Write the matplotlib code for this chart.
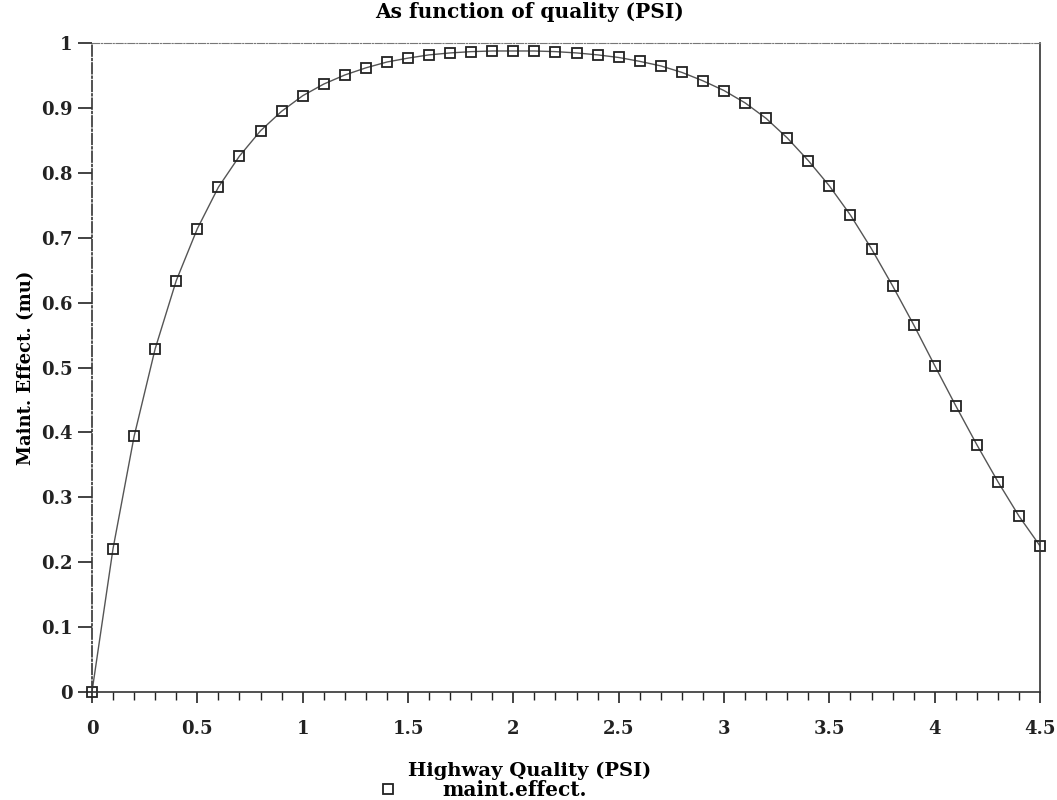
import matplotlib.pyplot as plt
import numpy as np

# highway quality (PSI) and maintenance effect
psi = [0.0, 0.1, 0.2, 0.3, 0.4, 0.5, 0.6, 0.7, 0.8, 0.9,
       1.0, 1.1, 1.2, 1.3, 1.4, 1.5, 1.6, 1.7, 1.8, 1.9,
       2.0, 2.1, 2.2, 2.3, 2.4, 2.5, 2.6, 2.7, 2.8, 2.9,
       3.0, 3.1, 3.2, 3.3, 3.4, 3.5, 3.6, 3.7, 3.8, 3.9,
       4.0, 4.1, 4.2, 4.3, 4.4, 4.5]
effect = [0.0, 0.221, 0.394, 0.529, 0.634, 0.714, 0.778, 0.826, 0.865, 0.895,
          0.919, 0.937, 0.951, 0.962, 0.971, 0.977, 0.982, 0.985, 0.987, 0.988,
          0.988, 0.988, 0.987, 0.985, 0.982, 0.978, 0.972, 0.965, 0.955, 0.942,
          0.927, 0.908, 0.884, 0.854, 0.819, 0.780, 0.735, 0.683, 0.626, 0.566,
          0.503, 0.441, 0.381, 0.324, 0.271, 0.225]

xticks = [0, 0.5, 1, 1.5, 2, 2.5, 3, 3.5, 4, 4.5]
xticklabels = ["0", "0.5", "1", "1.5", "2", "2.5", "3", "3.5", "4", "4.5"]
yticks = [0, 0.1, 0.2, 0.3, 0.4, 0.5, 0.6, 0.7, 0.8, 0.9, 1]
yticklabels = ["0", "0.1", "0.2", "0.3", "0.4", "0.5", "0.6", "0.7", "0.8", "0.9", "1"]

plt.rcParams['font.family'] = ['DejaVu Serif']
plt.rcParams['font.weight'] = 'bold'

fig = plt.figure(figsize=(10.57, 8), dpi=100)
ax = fig.add_axes([0.087, 0.135, 0.897, 0.811])

ax.plot(psi, effect, '-', color='#555555', linewidth=1.0)
ax.plot(psi, effect, 's', markersize=7.5, markerfacecolor='none',
        markeredgecolor='#222222', markeredgewidth=1.3, label='maint.effect.',
        clip_on=False)

ax.set_xlim(0, 4.5)
ax.set_ylim(0, 1)
ax.set_xticks(xticks)
ax.set_xticklabels(xticklabels)
ax.set_xticks(np.arange(0, 4.51, 0.1), minor=True)
ax.set_yticks(yticks)
ax.set_yticklabels(yticklabels)
ax.tick_params(axis='x', which='major', direction='out', length=8, width=1.2,
               labelsize=13, pad=12, colors='#222222')
ax.tick_params(axis='x', which='minor', direction='out', length=6, width=1.0, colors='#222222')
ax.tick_params(axis='y', which='major', direction='out', length=10, width=1.2,
               labelsize=13, pad=4, colors='#222222')

for side in ['left', 'bottom', 'right']:
    ax.spines[side].set_color('#333333')
    ax.spines[side].set_linewidth(1.2)
ax.spines['top'].set_color('#777777')
ax.spines['top'].set_linestyle('-.')
ax.spines['left'].set_linestyle('-.')

fig.text(0.501, 0.985, "As function of quality (PSI)", ha='center', va='center',
         fontsize=14.5, fontweight='bold')
ax.set_ylabel("Maint. Effect. (mu)", fontsize=13, fontweight='bold', labelpad=4)
fig.text(0.501, 0.036, "Highway Quality (PSI)", ha='center', va='center',
         fontsize=14, fontweight='bold')
fig.legend(loc='center left', bbox_to_anchor=(380 / 1057, 10 / 800), frameon=False,
           fontsize=14.5, handlelength=0.8, handletextpad=2.3, borderpad=0,
           borderaxespad=0, markerscale=0.9)

fig.savefig("out.png", dpi=100)
